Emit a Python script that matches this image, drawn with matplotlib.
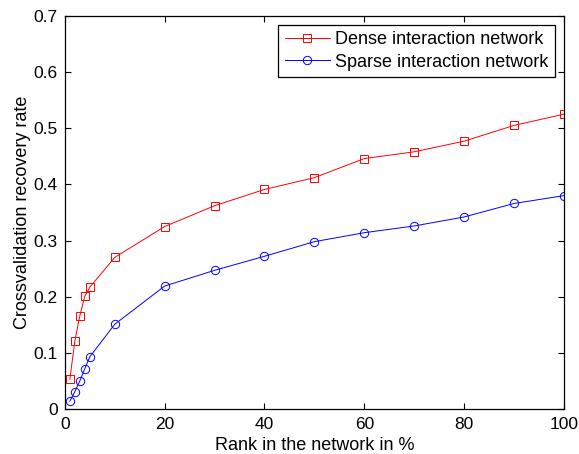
import matplotlib
matplotlib.use("Agg")
import matplotlib.pyplot as plt

plt.rcParams['font.family'] = ['Liberation Sans', 'DejaVu Sans']

rank = [1, 2, 3, 4, 5, 10, 20, 30, 40, 50, 60, 70, 80, 90, 100]
dense = [0.053, 0.121, 0.166, 0.201, 0.217, 0.270, 0.325, 0.362, 0.391, 0.412, 0.446, 0.458, 0.477, 0.505, 0.525]
sparse = [0.014, 0.031, 0.050, 0.072, 0.093, 0.151, 0.219, 0.247, 0.272, 0.298, 0.314, 0.326, 0.342, 0.366, 0.380]

fig = plt.figure(figsize=(5.79, 4.54), dpi=100)
ax = fig.add_axes([0.112, 0.099, 0.862, 0.866])

ax.plot(rank, dense, color='red', marker='s', markersize=5.5, markerfacecolor='none',
        markeredgewidth=0.7, linewidth=0.7, label='Dense interaction network')
ax.plot(rank, sparse, color='blue', marker='o', markersize=6, markerfacecolor='none',
        markeredgewidth=0.7, linewidth=0.7, label='Sparse interaction network')

ax.set_xlim(0, 100)
ax.set_ylim(0, 0.7)
ax.set_xticks(range(0, 101, 20))
ax.set_yticks([0, 0.1, 0.2, 0.3, 0.4, 0.5, 0.6, 0.7])
ax.set_yticklabels(['0', '0.1', '0.2', '0.3', '0.4', '0.5', '0.6', '0.7'])
ax.tick_params(direction='in', top=True, right=True, labelsize=12.5, length=4)
ax.tick_params(axis='x', pad=6)
ax.tick_params(axis='y', pad=5)
for s in ax.spines.values():
    s.set_linewidth(0.9)
ax.set_xlabel('Rank in the network in %', fontsize=13, labelpad=3)
ax.set_ylabel('Crossvalidation recovery rate', fontsize=13, labelpad=2)

leg = ax.legend(loc='upper right', fontsize=13, fancybox=False, framealpha=1,
                edgecolor='black', borderaxespad=0.5, handlelength=2.5,
                handletextpad=0.3, labelspacing=0.3, borderpad=0.35)
leg.get_frame().set_linewidth(0.9)

fig.savefig('out.png', dpi=100)
